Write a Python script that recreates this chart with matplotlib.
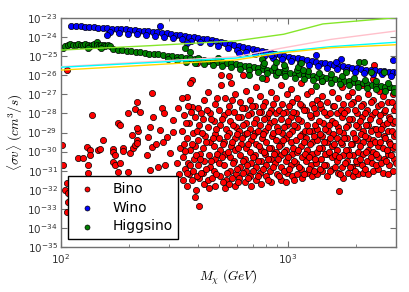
import numpy as np
import matplotlib
matplotlib.use('Agg')
import matplotlib.pyplot as plt

plt.rcParams['mathtext.fontset'] = 'cm'

# (mass in GeV, log10 <sigma v> in cm^3/s)
bino_points = [
    # sparse part at low mass
    (106, -25.73), (101, -29.66), (102, -30.70), (106, -31.65), (104, -32.01),
    (107, -32.17), (107, -32.64), (106, -33.17), (119, -30.34), (125, -30.34),
    (130, -29.76), (132, -30.70), (132, -31.12), (134, -29.92), (134, -30.18),
    (137, -28.08), (146, -29.92), (149, -29.87), (153, -29.39), (170, -29.87),
    (170, -30.02), (170, -30.55), (173, -30.18), (173, -30.70), (179, -28.50),
    (179, -31.07), (182, -30.60), (183, -28.61), (188, -29.81), (188, -29.95),
    (198, -27.98), (198, -31.07), (202, -30.08), (206, -29.13), (208, -29.81),
    (212, -27.77), (212, -29.66), (217, -27.40), (217, -29.39), (217, -29.55),
    (219, -28.92), (217, -28.77), (224, -27.93), (240, -30.18), (242, -29.24),
    (248, -28.71), (248, -30.97), (253, -26.93), (253, -29.76), (255, -28.19),
    (262, -29.60), (269, -30.81), (274, -28.87), (280, -27.72), (286, -28.00),
    (283, -29.50), (288, -30.70), (294, -29.24), (304, -30.08), (313, -28.35),
    (313, -28.97), (326, -30.60), (329, -27.72), (336, -29.81), (330, -31.20),
    # upper stragglers
    (361, -27.14), (343, -27.19), (380, -27.66), (380, -26.25), (372, -26.41),
    (399, -25.36), (506, -25.99), (548, -26.04), (506, -26.51), (560, -26.41),
    (632, -25.99), (2400, -25.46), (392, -32.00), (1680, -32.07),
    # dense cloud
    (347, -28.1), (341, -28.9), (350, -29.6), (344, -30.3), (352, -30.9), (346, -31.5),
    (362, -27.6), (368, -28.5), (360, -29.3), (370, -29.9), (364, -30.6), (367, -31.2), (361, -31.8),
    (388, -28.2), (383, -29.0), (390, -29.7), (386, -30.4), (381, -31.0), (389, -32.4),
    (402, -27.7), (408, -28.6), (404, -29.4), (410, -30.1), (400, -30.7), (406, -31.4), (405, -32.85),
    (428, -27.3), (422, -28.3), (430, -29.2), (424, -29.8), (427, -30.5), (421, -31.1), (429, -31.7),
    (447, -26.9), (453, -28.0), (446, -28.7), (455, -29.5), (449, -30.2), (452, -30.8), (444, -31.5), (450, -31.9),
    (478, -27.5), (472, -28.4), (480, -29.1), (474, -29.7), (477, -30.4), (471, -31.0), (479, -31.8),
    (497, -27.8), (503, -28.6), (496, -29.3), (505, -29.9), (499, -30.6), (502, -31.3),
    (531, -27.2), (525, -28.1), (533, -28.8), (526, -29.5), (530, -30.1), (524, -30.7), (532, -31.5), (528, -31.9),
    (553, -27.6), (559, -28.4), (551, -29.0), (561, -29.7), (555, -30.3), (558, -31.0), (552, -31.7),
    (588, -27.0), (582, -27.9), (590, -28.7), (583, -29.3), (587, -29.9), (581, -30.5), (589, -31.2), (584, -31.8),
    (613, -27.4), (619, -28.2), (611, -28.9), (621, -29.6), (615, -30.2), (618, -30.8), (612, -31.4),
    (653, -26.8), (646, -27.7), (655, -28.5), (648, -29.1), (652, -29.8), (645, -30.4), (654, -31.0), (649, -31.6),
    (682, -27.3), (689, -28.0), (680, -28.8), (691, -29.4), (684, -30.0), (688, -30.6), (681, -31.3), (686, -31.8),
    (725, -26.6), (718, -27.6), (727, -28.3), (719, -29.0), (724, -29.6), (716, -30.2), (726, -30.8), (721, -31.5),
    (757, -27.1), (764, -27.9), (755, -28.6), (766, -29.3), (759, -29.9), (763, -30.5), (756, -31.1), (761, -31.7),
    (804, -26.2), (796, -27.4), (806, -28.2), (797, -28.9), (802, -29.5), (794, -30.1), (805, -30.7), (799, -31.3),
    (840, -26.9), (847, -27.8), (838, -28.5), (849, -29.2), (842, -29.8), (846, -30.4), (839, -31.0), (844, -31.6),
    (892, -27.2), (884, -28.0), (894, -28.7), (885, -29.4), (890, -30.0), (882, -30.6), (893, -31.2),
    (931, -26.5), (939, -27.5), (929, -28.3), (941, -29.0), (934, -29.6), (938, -30.2), (930, -30.8), (936, -31.5),
    (989, -27.0), (981, -27.9), (991, -28.6), (982, -29.3), (987, -29.9), (979, -30.5), (990, -31.1), (984, -31.6),
    (1033, -26.7), (1041, -27.4), (1030, -28.2), (1044, -28.9), (1036, -29.5), (1040, -30.1), (1031, -30.7), (1039, -31.3),
    (1097, -27.2), (1087, -28.0), (1099, -28.7), (1088, -29.4), (1094, -30.0), (1085, -30.6), (1096, -31.2),
    (1146, -26.4), (1155, -27.6), (1143, -28.4), (1158, -29.1), (1149, -29.7), (1153, -30.3), (1144, -30.9), (1151, -31.4),
    (1217, -27.0), (1206, -27.8), (1219, -28.6), (1207, -29.3), (1214, -29.9), (1204, -30.5), (1216, -31.1),
    (1271, -26.8), (1281, -27.5), (1268, -28.2), (1284, -28.9), (1274, -29.5), (1279, -30.1), (1269, -30.7), (1277, -31.3),
    (1350, -27.3), (1338, -28.0), (1352, -28.8), (1339, -29.4), (1347, -30.0), (1336, -30.6), (1349, -31.2),
    (1410, -26.3), (1422, -27.1), (1408, -27.7), (1425, -28.5), (1413, -29.2), (1419, -29.8), (1407, -30.4), (1417, -31.0),
    (1497, -27.4), (1484, -28.1), (1500, -28.9), (1486, -29.5), (1494, -30.1), (1482, -30.7), (1496, -31.3),
    (1564, -26.9), (1577, -27.6), (1561, -28.4), (1580, -29.1), (1567, -29.7), (1574, -30.3), (1560, -30.9),
    (1661, -27.2), (1647, -28.0), (1663, -28.7), (1648, -29.3), (1657, -29.9), (1645, -30.5), (1660, -31.1),
    (1735, -26.6), (1750, -27.5), (1732, -28.2), (1753, -29.0), (1738, -29.6), (1746, -30.2), (1731, -30.8), (1744, -31.4),
    (1843, -27.1), (1827, -27.8), (1845, -28.6), (1829, -29.3), (1839, -29.9), (1825, -30.5), (1842, -31.1),
    (1924, -26.9), (1941, -27.4), (1921, -28.3), (1944, -29.0), (1928, -29.6), (1937, -30.2), (1920, -30.8), (1935, -31.3),
    (2044, -27.2), (2026, -28.0), (2047, -28.7), (2027, -29.4), (2039, -30.0), (2023, -30.6), (2042, -31.2),
    (2134, -26.5), (2153, -27.5), (2130, -28.2), (2156, -28.9), (2138, -29.5), (2149, -30.1), (2129, -30.7), (2146, -31.1),
    (2267, -27.0), (2247, -27.8), (2270, -28.6), (2248, -29.3), (2262, -29.9), (2244, -30.5), (2265, -31.2),
    (2367, -26.2), (2388, -27.3), (2363, -28.1), (2391, -28.8), (2371, -29.4), (2383, -30.0), (2361, -30.6), (2380, -31.0),
    (2515, -26.8), (2493, -27.6), (2518, -28.4), (2494, -29.1), (2509, -29.7), (2490, -30.3), (2512, -30.9),
    (2626, -27.1), (2649, -27.9), (2622, -28.6), (2652, -29.2), (2631, -29.8), (2644, -30.4), (2620, -31.1),
    (2789, -26.6), (2765, -27.4), (2792, -28.2), (2766, -28.9), (2783, -29.5), (2761, -30.1), (2786, -30.7), (2770, -31.2),
    (2913, -27.0), (2938, -27.8), (2909, -28.5), (2942, -29.2), (2918, -29.8), (2933, -30.4), (2906, -31.0),
    # filling between the columns above
    (357, -28.5), (352, -29.95), (359, -31.1),
    (374, -27.9), (379, -29.6), (372, -30.7), (377, -31.5),
    (397, -28.9), (392, -30.2), (398, -31.3),
    (413, -28.0), (418, -29.0), (411, -30.4), (416, -31.1),
    (440, -27.8), (434, -29.5), (438, -30.9),
    (459, -28.3), (466, -29.3), (460, -30.5), (464, -31.4),
    (490, -27.2), (484, -28.8), (489, -30.1), (485, -31.2),
    (511, -28.3), (517, -29.6), (512, -30.3), (516, -31.6),
    (545, -27.9), (539, -29.2), (544, -30.0), (540, -31.1),
    (567, -27.3), (573, -28.6), (566, -29.5), (574, -30.6), (569, -31.4),
    (603, -28.2), (597, -29.1), (604, -29.8), (598, -30.9), (601, -31.6),
    (630, -27.7), (637, -28.6), (629, -29.3), (636, -30.5), (632, -31.1),
    (670, -28.1), (663, -29.0), (671, -29.6), (664, -30.7), (668, -31.4),
    (699, -27.6), (707, -28.5), (700, -29.2), (706, -30.3), (702, -31.0),
    (745, -27.9), (737, -28.9), (746, -29.7), (738, -30.5), (743, -31.3),
    (776, -27.6), (785, -28.3), (777, -29.1), (784, -30.0), (779, -30.9),
    (826, -28.0), (817, -28.7), (825, -29.8), (816, -30.4), (822, -31.5),
    (860, -27.5), (870, -28.4), (861, -29.0), (869, -30.1), (864, -30.8),
    (916, -27.8), (906, -28.9), (915, -29.7), (907, -30.4), (912, -31.3),
    (955, -28.0), (966, -28.7), (956, -29.4), (964, -30.0), (959, -31.0),
    (1017, -27.6), (1005, -28.4), (1016, -29.1), (1006, -30.3), (1012, -30.9),
    (1058, -27.9), (1070, -28.6), (1059, -29.8), (1069, -30.5), (1063, -31.5),
    (1128, -27.5), (1114, -28.3), (1127, -29.2), (1115, -29.9), (1122, -30.8),
    (1174, -27.8), (1188, -28.9), (1175, -29.5), (1187, -30.1), (1180, -31.2),
    (1252, -28.1), (1236, -28.9), (1251, -29.6), (1237, -30.3), (1245, -30.9),
    (1302, -27.7), (1319, -28.6), (1303, -29.2), (1318, -30.4), (1310, -31.0),
    (1389, -27.5), (1371, -28.4), (1388, -29.1), (1372, -29.8), (1381, -30.9),
    (1444, -27.9), (1463, -28.8), (1445, -29.5), (1462, -30.1), (1452, -30.7),
    (1540, -28.0), (1520, -28.6), (1539, -29.3), (1521, -30.0), (1531, -31.0),
    (1601, -27.6), (1623, -28.5), (1602, -29.6), (1622, -30.2), (1611, -30.8),
    (1710, -27.8), (1686, -28.9), (1709, -29.5), (1687, -30.3), (1699, -31.2),
    (1776, -28.0), (1801, -28.7), (1777, -29.3), (1800, -29.9), (1789, -30.6),
    (1896, -27.5), (1870, -28.3), (1895, -29.6), (1871, -30.2), (1884, -30.8),
    (1970, -27.8), (1997, -28.6), (1971, -29.3), (1996, -30.5), (1982, -31.0),
    (2104, -27.6), (2075, -28.4), (2103, -29.1), (2076, -29.7), (2090, -30.4),
    (2185, -28.0), (2216, -28.6), (2186, -29.2), (2215, -30.0), (2201, -30.9),
    (2333, -27.4), (2300, -28.3), (2332, -28.9), (2301, -29.6), (2317, -30.3),
    (2424, -27.9), (2457, -28.8), (2425, -29.5), (2456, -30.1), (2441, -30.7),
    (2589, -27.5), (2552, -28.1), (2588, -28.8), (2553, -29.5), (2571, -30.6),
    (2689, -27.8), (2727, -28.5), (2690, -29.3), (2726, -29.9), (2706, -30.5),
    (2871, -27.4), (2830, -28.3), (2870, -28.9), (2831, -29.6), (2851, -30.2),
    (2990, -27.6), (2975, -28.4), (2995, -29.1), (2978, -29.7), (2988, -30.6),
]

wino_points = [
    (111, -23.40), (116, -23.41), (122, -23.43), (127, -23.45), (133, -23.46),
    (140, -23.48), (146, -23.50), (153, -23.51), (160, -23.53), (168, -23.55),
    (176, -23.57), (184, -23.59), (193, -23.60), (202, -23.62), (211, -23.64),
    (221, -23.66), (232, -23.68), (243, -23.70), (254, -23.72), (266, -23.74),
    (279, -23.76), (292, -23.80), (305, -23.84), (320, -23.87), (335, -23.91),
    (351, -23.94), (367, -23.98), (385, -24.02), (403, -24.05), (422, -24.09),
    (442, -24.12), (462, -24.17), (484, -24.22), (507, -24.27), (531, -24.33),
    (556, -24.38), (582, -24.43), (610, -24.48), (638, -24.54), (668, -24.59),
    (700, -24.64), (733, -24.69), (767, -24.75), (804, -24.80), (841, -24.84),
    (881, -24.89), (923, -24.94), (966, -24.98), (1012, -25.03), (1059, -25.08),
    (1109, -25.12), (1161, -25.17), (1216, -25.22), (1274, -25.27), (1334, -25.31),
    (1396, -25.35), (1462, -25.38), (1531, -25.42), (1603, -25.45), (1679, -25.49),
    (1758, -25.53), (1841, -25.56), (1928, -25.60), (2018, -25.63), (2113, -25.67),
    (2213, -25.70), (2317, -25.72), (2427, -25.74), (2541, -25.76), (2661, -25.79),
    (2786, -25.81), (2917, -25.83), (3020, -25.85),
    # lower edge of the band
    (164, -23.72), (180, -23.78), (197, -23.83), (216, -23.86), (237, -23.90),
    (260, -23.93), (285, -23.99), (313, -24.06), (343, -24.12), (376, -24.19),
    (412, -24.27), (452, -24.33), (495, -24.45), (543, -24.55), (596, -24.66),
    (653, -24.76), (716, -24.86), (785, -24.97), (861, -25.07), (944, -25.16),
    (1035, -25.25), (1135, -25.35), (1245, -25.45), (1365, -25.53), (1496, -25.60),
    (1641, -25.67), (1799, -25.75), (1972, -25.81), (2163, -25.88), (2371, -25.93),
    (2600, -25.96), (2851, -26.02),
    # stragglers
    (272, -23.42), (160, -23.89), (361, -24.31), (607, -24.83), (1330, -24.94),
    (2917, -25.20), (1718, -25.15), (840, -24.94), (1630, -25.30),
]

higgsino_points = [
    (102, -24.55), (104, -24.45), (107, -24.40), (110, -24.38), (113, -24.42),
    (116, -24.40), (119, -24.37), (122, -24.43), (125, -24.40), (128, -24.38),
    (131, -24.42), (134, -24.45), (137, -24.40), (140, -24.38), (144, -24.26),
    (144, -24.42), (147, -24.46), (150, -24.40), (154, -24.43), (157, -24.47),
    (161, -24.42), (165, -24.45), (132, -24.55), (150, -24.55),
    (170, -24.62), (178, -24.65), (186, -24.68), (195, -24.71), (204, -24.74),
    (214, -24.77), (224, -24.80), (234, -24.83), (245, -24.86), (257, -24.88),
    (269, -24.91), (282, -24.94), (295, -24.97), (309, -25.00), (324, -25.03),
    (339, -25.06), (355, -25.09), (372, -25.12), (389, -25.15), (407, -25.17),
    (427, -25.20), (447, -25.23), (468, -25.26), (490, -25.29), (513, -25.32),
    (537, -25.35), (562, -25.38), (589, -25.41), (617, -25.45), (646, -25.49),
    (676, -25.53), (708, -25.57), (741, -25.62), (776, -25.66), (813, -25.70),
    (851, -25.74), (891, -25.77), (933, -25.81), (977, -25.84), (1023, -25.87),
    (1072, -25.91), (1122, -25.94), (1175, -25.97), (1230, -26.01), (1288, -26.04),
    (1349, -26.07), (1413, -26.11), (1479, -26.14), (1549, -26.17), (1622, -26.21),
    (1698, -26.24), (1778, -26.28), (1862, -26.32), (1950, -26.35), (2042, -26.39),
    (2138, -26.42), (2239, -26.46), (2344, -26.49), (2455, -26.53), (2570, -26.56),
    (2692, -26.60), (2818, -26.64), (2951, -26.67),
    # lower edge
    (295, -25.16), (324, -25.22), (355, -25.28), (389, -25.34), (427, -25.40),
    (468, -25.45), (513, -25.51), (562, -25.58), (617, -25.65), (676, -25.74),
    (741, -25.82), (813, -25.90), (891, -25.98), (977, -26.05), (1072, -26.12),
    (1175, -26.18), (1288, -26.25), (1413, -26.32), (1549, -26.38), (1698, -26.45),
    (1862, -26.52), (2042, -26.59), (2239, -26.66), (2455, -26.73), (2692, -26.80),
    (2951, -26.87),
    # upper edge
    (776, -25.46), (871, -25.55), (977, -25.63), (1096, -25.71), (1230, -25.80),
    (1380, -25.88), (1549, -25.96), (1738, -26.05), (1950, -26.14), (2188, -26.23),
    (2455, -26.32), (2754, -26.42),
    # stragglers
    (354, -24.57), (372, -24.78), (404, -25.10), (495, -25.10), (672, -25.99),
    (773, -25.15), (783, -25.36), (884, -25.31), (959, -25.46), (903, -25.83),
    (1106, -25.57), (1143, -25.36), (1165, -25.73), (1330, -26.56), (1805, -25.83),
    (2061, -25.31), (2166, -25.31), (2325, -25.83), (773, -26.15), (2660, -25.83),
]

# limit curves
limit_mass = [100, 590, 930, 1550, 3000]
pink_logsv = [-25.55, -25.03, -24.59, -24.12, -23.68]
cyan_logsv = [-25.58, -25.10, -24.77, -24.50, -24.27]
gold_logsv = [-25.73, -25.20, -24.83, -24.56, -24.40]
green_mass = [100, 247, 589, 960, 1429, 2575, 3000]
green_logsv = [-24.68, -24.45, -24.20, -23.85, -23.31, -23.05, -22.98]


def unpack(points):
    m, lg = zip(*points)
    return np.array(m, dtype=float), 10.0 ** np.array(lg)


fig = plt.figure(figsize=(4.09, 2.92), dpi=100)
ax = fig.add_axes([0.1491, 0.1541, 0.819, 0.7842])

for pts, col, lab in [(bino_points, 'r', 'Bino'),
                      (wino_points, 'b', 'Wino'),
                      (higgsino_points, 'g', 'Higgsino')]:
    m, sv = unpack(pts)
    ax.scatter(m, sv, s=20, c=col, edgecolors='k', linewidths=0.5, label=lab, zorder=2)

ax.plot(green_mass, 10.0 ** np.array(green_logsv), color='#86e62a', lw=1, zorder=3)
ax.plot(limit_mass, 10.0 ** np.array(pink_logsv), color='pink', lw=1, zorder=3)
ax.plot(limit_mass, 10.0 ** np.array(cyan_logsv), color='cyan', lw=1, zorder=3)
ax.plot(limit_mass, 10.0 ** np.array(gold_logsv), color='gold', lw=1, zorder=3)

ax.set_xscale('log')
ax.set_yscale('log')
ax.set_xlim(100, 3000)
ax.set_ylim(1e-35, 1e-23)
ax.set_yticks([10.0 ** k for k in range(-35, -22)])

ax.set_xlabel(r'$M_\chi\ (GeV)$', fontsize=9.5, labelpad=1)
ax.set_ylabel(r'$\langle\sigma v\rangle\ (cm^3/s)$', fontsize=9.5, labelpad=2)

for sp in ax.spines.values():
    sp.set_color('#707070')
    sp.set_linewidth(1.0)
ax.tick_params(which='both', direction='in', top=True, right=True, colors='#707070',
               labelcolor='#333333', labelsize=7.5)
ax.tick_params(axis='y', pad=2.5)
ax.tick_params(axis='x', pad=4)
ax.tick_params(which='major', length=4)
ax.tick_params(which='minor', length=2)

leg = ax.legend(loc='lower left', bbox_to_anchor=(0.021, 0.035), borderaxespad=0,
                scatterpoints=1, fancybox=False, fontsize=10, labelspacing=0.35,
                handletextpad=0.8, markerscale=0.8, framealpha=1)
leg.get_frame().set_edgecolor('k')
leg.get_frame().set_linewidth(1.0)

fig.savefig('out.png', dpi=100)
